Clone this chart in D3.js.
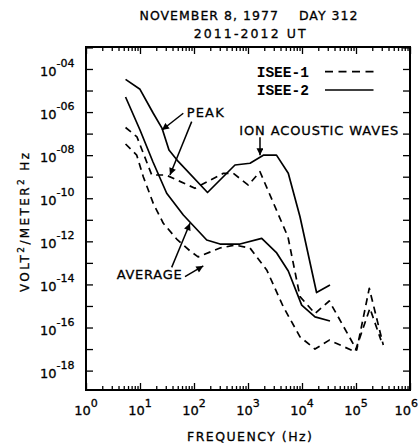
<!DOCTYPE html>
<html>
<head>
<meta charset="utf-8">
<script src="https://cdn.jsdelivr.net/npm/d3@7"></script>
<style>
  html, body { margin: 0; padding: 0; background: #fff; }
  svg { display: block; }
  text { font-family: "DejaVu Sans", sans-serif; fill: #000; stroke: #000; stroke-width: 0.3px; }
</style>
</head>
<body>
<svg id="chart" width="419" height="445"></svg>
<script>
// ---------------- data ----------------
const isee2PeakFreq = [5.4, 10, 17.6, 25.5, 34.4, 51, 178, 574, 1090, 1920, 3370, 5570, 9180, 18600, 33000];
const isee2PeakVal  = [3.3e-5, 1.14e-5, 8.8e-7, 1.8e-7, 1.74e-8, 5.1e-9, 1.85e-10, 3.5e-9, 4.2e-9, 1.0e-8, 1.0e-8, 1.44e-9, 1.39e-11, 4.2e-15, 9.4e-15];

const isee1PeakFreq = [5.4, 8.8, 16.5, 30.3, 104, 349, 534, 1013, 1668, 5500, 9180, 17400, 32000, 103000, 176000, 320000];
const isee1PeakVal  = [1.92e-7, 7.0e-8, 1.2e-9, 1.2e-9, 2.9e-10, 1.44e-9, 1.44e-9, 4.1e-10, 1.7e-9, 1.6e-12, 2.7e-15, 4.5e-16, 1.7e-15, 9e-18, 6.6e-15, 1.54e-17];

const isee2AvgFreq = [5.4, 10, 17.4, 31.2, 63.4, 172, 303, 711, 1795, 3400, 5570, 9870, 17400, 33000];
const isee2AvgVal  = [5.0e-6, 1.47e-7, 4.8e-9, 1.7e-10, 1.67e-11, 1.15e-12, 7.5e-13, 7.5e-13, 1.38e-12, 2.9e-13, 4.2e-14, 1.1e-15, 3.1e-16, 2.0e-16];

const isee1AvgFreq = [5.4, 8.7, 11.5, 17.6, 27, 47.8, 84.3, 119, 303, 574, 1089, 2220, 4500, 9180, 17400, 32000, 95800, 181000, 290000];
const isee1AvgVal  = [3.3e-8, 1.0e-8, 1e-9, 5.8e-11, 6.9e-12, 1.28e-12, 3.6e-13, 1.9e-13, 4.9e-13, 6.7e-13, 4.9e-13, 4.7e-14, 9.2e-16, 3.7e-17, 1e-17, 2.6e-17, 7.5e-18, 7.8e-16, 2.6e-17];

const xTickExponents = [0, 1, 2, 3, 4, 5, 6];
const yTickExponents = [-4, -6, -8, -10, -12, -14, -16, -18];
const yMinorExponents = [-3, -4, -5, -6, -7, -8, -9, -10, -11, -12, -13, -14, -15, -16, -17, -18];

const titleLine1 = "NOVEMBER 8, 1977    DAY 312";
const titleLine2 = "2011-2012 UT";
const xLabel = "FREQUENCY (Hz)";
const legendNames = ["ISEE-1", "ISEE-2"];

// annotations: [fromFreq, fromVal, toFreq, toVal]
const arrows = [
  [63.4, 8.8e-7, 25.5, 1.47e-7],
  [90.6, 3.6e-7, 35.9, 1.2e-9],
  [1668, 6.7e-8, 1668, 1.0e-8],
  [38.6, 6.2e-14, 84.3, 6.9e-12],
  [68.1, 2.3e-14, 148.6, 7.2e-14]
];
const labels = [
  ["PEAK", 73.2, 5.9e-7, 37],
  ["ION ACOUSTIC WAVES", 690, 8.6e-8, 159],
  ["AVERAGE", 3.7, 1.78e-14, 65]
];

// ---------------- layout ----------------
const L = 86, R = 410, T = 47, B = 390;
const svg = d3.select("#chart");

const x = d3.scaleLog().domain([1, 1e6]).range([L, R]);
const y = d3.scaleLog().domain([Math.pow(10, -18.9), Math.pow(10, -2.98)]).range([B, T]);

// title
svg.append("text").attr("x", 248.5).attr("y", 20).attr("text-anchor", "middle")
  .attr("font-size", 12.5).attr("textLength", 218).attr("lengthAdjust", "spacing")
  .attr("xml:space", "preserve").style("white-space", "pre").text(titleLine1);
svg.append("text").attr("x", 249.7).attr("y", 38).attr("text-anchor", "middle")
  .attr("font-size", 12.5).attr("textLength", 112).attr("lengthAdjust", "spacing")
  .text(titleLine2);

// axes ticks
const minorX = [];
for (let e = 0; e < 6; e++) for (let m = 2; m <= 9; m++) minorX.push(m * Math.pow(10, e));
const majorX = xTickExponents.map(e => Math.pow(10, e));

function strip(g) { g.select(".domain").remove(); g.selectAll("line").attr("stroke", "#000").attr("stroke-width", 1.3); }

svg.append("g").attr("transform", `translate(0,${B})`)
  .call(d3.axisBottom(x).tickValues(minorX).tickSize(-4).tickFormat("")).call(strip);
svg.append("g").attr("transform", `translate(0,${B})`)
  .call(d3.axisBottom(x).tickValues(majorX).tickSize(-7).tickFormat("")).call(strip);
svg.append("g").attr("transform", `translate(0,${T})`)
  .call(d3.axisTop(x).tickValues(minorX).tickSize(-4).tickFormat("")).call(strip);
svg.append("g").attr("transform", `translate(0,${T})`)
  .call(d3.axisTop(x).tickValues(majorX).tickSize(-7).tickFormat("")).call(strip);

const yMinorVals = yMinorExponents.map(e => Math.pow(10, e));
svg.append("g").attr("transform", `translate(${L},0)`)
  .call(d3.axisLeft(y).tickValues(yMinorVals).tickSize(-7).tickFormat("")).call(strip);
svg.append("g").attr("transform", `translate(${R},0)`)
  .call(d3.axisRight(y).tickValues(yMinorVals).tickSize(-7).tickFormat("")).call(strip);

// frame
svg.append("rect").attr("x", L).attr("y", T).attr("width", R - L).attr("height", B - T)
  .attr("fill", "none").attr("stroke", "#000").attr("stroke-width", 2);

// x tick labels
xTickExponents.forEach((e, i) => {
  const last = i === xTickExponents.length - 1;
  const t = svg.append("text").attr("x", last ? 418 : x(Math.pow(10, e))).attr("y", 415)
    .attr("text-anchor", last ? "end" : "middle").attr("font-size", 13);
  t.append("tspan").text("10");
  t.append("tspan").attr("dy", -8).attr("font-size", 11).text(String(e));
});

// y tick labels
yTickExponents.forEach(e => {
  const t = svg.append("text").attr("x", 40).attr("y", y(Math.pow(10, e)) + 7)
    .attr("font-size", 13);
  t.append("tspan").text("10");
  t.append("tspan").attr("dy", -9).attr("font-size", 11)
    .text("-" + String(Math.abs(e)).padStart(2, "0"));
});

// axis labels
svg.append("text").attr("x", 249.5).attr("y", 441).attr("text-anchor", "middle")
  .attr("font-size", 12.5).attr("textLength", 125).attr("lengthAdjust", "spacing").text(xLabel);

const yl = svg.append("text").attr("transform", "translate(28.5,222.5) rotate(-90)")
  .attr("text-anchor", "middle").attr("font-size", 12)
  .attr("textLength", 139).attr("lengthAdjust", "spacing");
yl.append("tspan").text("VOLT");
yl.append("tspan").attr("dy", -5).attr("font-size", 9).text("2");
yl.append("tspan").attr("dy", 5).text("/METER");
yl.append("tspan").attr("dy", -5).attr("font-size", 9).text("2");
yl.append("tspan").attr("dy", 5).text(" Hz");

// curves
const line = d3.line().x(d => x(d[0])).y(d => y(d[1]));
const zip = (a, b) => a.map((v, i) => [v, b[i]]);
const series = [
  { f: isee2PeakFreq, v: isee2PeakVal, dash: null },
  { f: isee1PeakFreq, v: isee1PeakVal, dash: "7,5" },
  { f: isee2AvgFreq,  v: isee2AvgVal,  dash: null },
  { f: isee1AvgFreq,  v: isee1AvgVal,  dash: "7,5" }
];
series.forEach(s => {
  svg.append("path").attr("d", line(zip(s.f, s.v)))
    .attr("fill", "none").attr("stroke", "#000").attr("stroke-width", 1.7)
    .attr("stroke-linejoin", "round")
    .attr("stroke-dasharray", s.dash);
});

// legend
const legY = [71.7, 90];
legendNames.forEach((n, i) => {
  svg.append("text").attr("x", 256.7).attr("y", legY[i] + 5)
    .style("font-family", "'Liberation Mono', monospace").attr("font-weight", "bold")
    .style("stroke-width", "0px")
    .attr("font-size", 14.5).text(n);
  svg.append("line").attr("x1", 325).attr("x2", 373.5).attr("y1", legY[i]).attr("y2", legY[i])
    .attr("stroke", "#000").attr("stroke-width", 1.7)
    .attr("stroke-dasharray", i === 0 ? "8,5.5" : null);
});

// arrow marker
svg.append("defs").append("marker").attr("id", "ah")
  .attr("viewBox", "0 0 10 10").attr("refX", 10).attr("refY", 5)
  .attr("markerWidth", 9).attr("markerHeight", 7).attr("markerUnits", "userSpaceOnUse")
  .attr("orient", "auto")
  .append("path").attr("d", "M0,0 L10,5 L0,10 Z").attr("fill", "#000");

arrows.forEach(a => {
  svg.append("line").attr("x1", x(a[0])).attr("y1", y(a[1]))
    .attr("x2", x(a[2])).attr("y2", y(a[3]))
    .attr("stroke", "#000").attr("stroke-width", 1.5).attr("marker-end", "url(#ah)");
});

labels.forEach(l => {
  svg.append("text").attr("x", x(l[1])).attr("y", y(l[2]))
    .attr("font-size", 13).attr("textLength", l[3]).attr("lengthAdjust", "spacing").text(l[0]);
});
</script>
</body>
</html>
